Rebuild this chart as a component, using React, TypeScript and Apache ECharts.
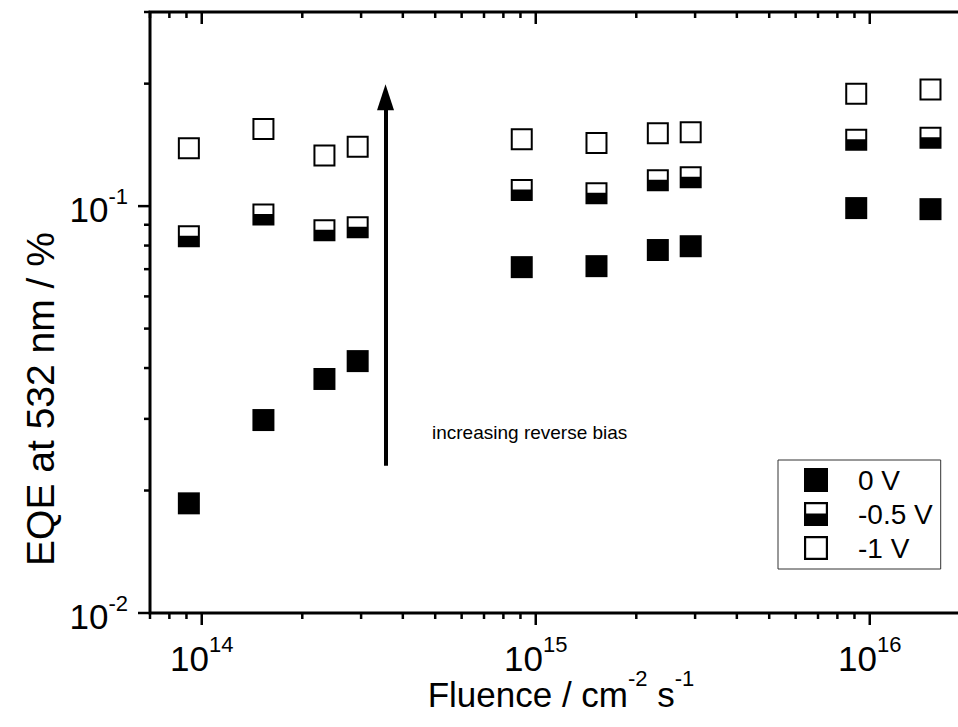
import React, { useEffect, useRef } from 'react';
import * as echarts from 'echarts';

// ---- data ----
const fluence = [9.15e13, 1.53e14, 2.33e14, 2.93e14, 9.08e14, 1.52e15, 2.32e15, 2.91e15, 9.11e15, 1.52e16];
const eqe0V = [0.0186, 0.0298, 0.0376, 0.0416, 0.0708, 0.0712, 0.078, 0.0797, 0.0989, 0.0983];
const eqe05V = [0.0843, 0.0954, 0.0872, 0.0887, 0.1095, 0.1076, 0.1158, 0.1178, 0.1455, 0.1473];
const eqe1V = [0.1387, 0.1548, 0.1331, 0.14, 0.146, 0.143, 0.151, 0.152, 0.189, 0.1935];
const seriesNames = ['0 V', '-0.5 V', '-1 V'];

const xMin = 7e13;
const xMax = 2e16;
const yMin = 0.01;
const yMax = 0.3;
const xMajorTicks = [1e14, 1e15, 1e16];
const xMinorTicks = [7e13, 8e13, 9e13, 2e14, 3e14, 4e14, 5e14, 6e14, 7e14, 8e14, 9e14, 2e15, 3e15, 4e15, 5e15, 6e15, 7e15, 8e15, 9e15, 2e16];
const yMajorTicks = [0.01, 0.1];
const yMinorTicks = [0.02, 0.03, 0.04, 0.05, 0.06, 0.07, 0.08, 0.09, 0.2, 0.3];

const arrowX = 3.55e14;
const arrowFrom = 0.023;
const arrowTo = 0.1852;
const annotation = 'increasing reverse bias';
const xTitle = '{a|Fluence / cm}{s|-2}{a| s}{s|-1}';
const yTitle = 'EQE at 532 nm / %';

const FONT = '"Liberation Sans", Arial, Helvetica, sans-serif';

const SYM_FILLED = 'path://M0,0 L22,0 L22,22 L0,22 Z';
const SYM_HALF = 'path://M0,0 L22,0 L22,22 L0,22 Z M2,2 L2,10.5 L20,10.5 L20,2 Z';
const SYM_OPEN = 'path://M0,0 L22,0 L22,22 L0,22 Z M2,2 L2,20 L20,20 L20,2 Z';

const MAJOR_LEN = 12;
const MINOR_LEN = 6;

function isDecade(v: number) {
  const l = Math.log10(v);
  return Math.abs(l - Math.round(l)) < 1e-6;
}

const labelRich = {
  b: { fontSize: 35, fontFamily: FONT, color: '#000', lineHeight: 42, verticalAlign: 'bottom' },
  s: { fontSize: 22, fontFamily: FONT, color: '#000', lineHeight: 22, verticalAlign: 'top' },
};

export default function App() {
  const ref = useRef<HTMLDivElement>(null);

  useEffect(() => {
    if (!ref.current) return;
    const chart = echarts.init(ref.current, undefined, { renderer: 'svg' });

    const xTickData = [
      ...xMajorTicks.map((v) => [v, yMin, MAJOR_LEN]),
      ...xMinorTicks.map((v) => [v, yMin, MINOR_LEN]),
    ];
    const yTickData = [
      ...yMajorTicks.map((v) => [xMin, v, MAJOR_LEN]),
      ...yMinorTicks.map((v) => [xMin, v, MINOR_LEN]),
    ];
    const tickStyle = { stroke: '#000', lineWidth: 2.5 };

    const scatterBase = {
      type: 'scatter',
      symbolSize: 22,
      itemStyle: { color: '#000', opacity: 1 },
      emphasis: { disabled: true },
      silent: true,
      z: 3,
    };

    chart.setOption({
      animation: false,
      backgroundColor: '#fff',
      textStyle: { fontFamily: FONT },
      grid: {
        left: 150,
        top: 12,
        width: 820.3,
        height: 601,
        containLabel: false,
        outerBoundsMode: 'none',
        show: true,
        borderColor: '#000',
        borderWidth: 3,
        backgroundColor: 'transparent',
      },
      xAxis: {
        type: 'log',
        logBase: 10,
        min: xMin,
        max: xMax,
        axisLine: { show: false },
        axisTick: { show: false },
        splitLine: { show: false },
        minorTick: { show: false },
        axisLabel: {
          margin: 20.5,
          showMinLabel: false,
          showMaxLabel: false,
          formatter: (v: number) => (isDecade(v) ? `{b|10}{s|${Math.round(Math.log10(v))}}` : ''),
          rich: labelRich,
        },
      },
      yAxis: {
        type: 'log',
        logBase: 10,
        min: yMin,
        max: yMax,
        axisLine: { show: false },
        axisTick: { show: false },
        splitLine: { show: false },
        minorTick: { show: false },
        axisLabel: {
          margin: 22,
          showMaxLabel: false,
          formatter: (v: number) => (isDecade(v) ? `{b|10}{s|${Math.round(Math.log10(v))}}` : ''),
          rich: labelRich,
        },
      },
      legend: {
        data: seriesNames,
        orient: 'vertical',
        left: 778,
        top: 460,
        itemWidth: 24,
        itemHeight: 24,
        itemGap: 6,
        padding: [6, 8, 7, 26],
        borderColor: '#333',
        borderWidth: 1,
        backgroundColor: '#fff',
        selectedMode: false,
        textStyle: { fontSize: 28, fontFamily: FONT, color: '#000', padding: [0, 0, 0, 25] },
      },
      graphic: [
        {
          type: 'text',
          x: 432,
          y: 432,
          style: {
            text: annotation,
            font: `19px ${FONT}`,
            fill: '#000',
            textVerticalAlign: 'middle',
          },
          z: 10,
        },
        {
          type: 'text',
          x: 40,
          y: 399,
          rotation: Math.PI / 2,
          style: {
            text: yTitle,
            font: `39px ${FONT}`,
            fill: '#000',
            textAlign: 'center',
            textVerticalAlign: 'middle',
          },
          z: 10,
        },
        {
          type: 'text',
          x: 561,
          y: 689.5,
          style: {
            text: xTitle,
            fill: '#000',
            textAlign: 'center',
            textVerticalAlign: 'middle',
            rich: {
              a: { fontSize: 35, fontFamily: FONT, fill: '#000', lineHeight: 44, verticalAlign: 'bottom' },
              s: { fontSize: 22, fontFamily: FONT, fill: '#000', lineHeight: 22, verticalAlign: 'top' },
            },
          },
          z: 10,
        },
      ],
      series: [
        {
          ...scatterBase,
          name: seriesNames[0],
          symbol: SYM_FILLED,
          data: fluence.map((x, i) => [x, eqe0V[i]]),
          markLine: {
            silent: true,
            symbol: ['none', 'triangle'],
            symbolSize: [17, 26],
            label: { show: false },
            lineStyle: { color: '#000', width: 4, type: 'solid' },
            data: [[{ coord: [arrowX, arrowFrom] }, { coord: [arrowX, arrowTo] }]],
          },
        },
        {
          ...scatterBase,
          name: seriesNames[1],
          symbol: SYM_HALF,
          data: fluence.map((x, i) => [x, eqe05V[i]]),
        },
        {
          ...scatterBase,
          name: seriesNames[2],
          symbol: SYM_OPEN,
          data: fluence.map((x, i) => [x, eqe1V[i]]),
        },
        {
          type: 'custom',
          name: 'xticks',
          silent: true,
          z: 5,
          renderItem: (_p: any, api: any) => {
            const v = api.value(0);
            const len = api.value(2);
            const b = api.coord([v, yMin]);
            const t = api.coord([v, yMax]);
            return {
              type: 'group',
              children: [
                { type: 'line', shape: { x1: b[0], y1: b[1], x2: b[0], y2: b[1] + len }, style: tickStyle },
                { type: 'line', shape: { x1: t[0], y1: t[1], x2: t[0], y2: t[1] + len }, style: tickStyle },
              ],
            };
          },
          data: xTickData,
        },
        {
          type: 'custom',
          name: 'yticks',
          silent: true,
          z: 5,
          renderItem: (_p: any, api: any) => {
            const v = api.value(1);
            const len = api.value(2);
            const l = api.coord([xMin, v]);
            const r = api.coord([xMax, v]);
            return {
              type: 'group',
              children: [
                { type: 'line', shape: { x1: l[0] - len, y1: l[1], x2: l[0], y2: l[1] }, style: tickStyle },
                { type: 'line', shape: { x1: r[0] - len, y1: r[1], x2: r[0], y2: r[1] }, style: tickStyle },
              ],
            };
          },
          data: yTickData,
        },
      ],
    });

    return () => chart.dispose();
  }, []);

  return (
    <div
      ref={ref}
      style={{ position: 'fixed', left: 0, top: 0, width: 958, height: 727, background: '#fff' }}
    />
  );
}
